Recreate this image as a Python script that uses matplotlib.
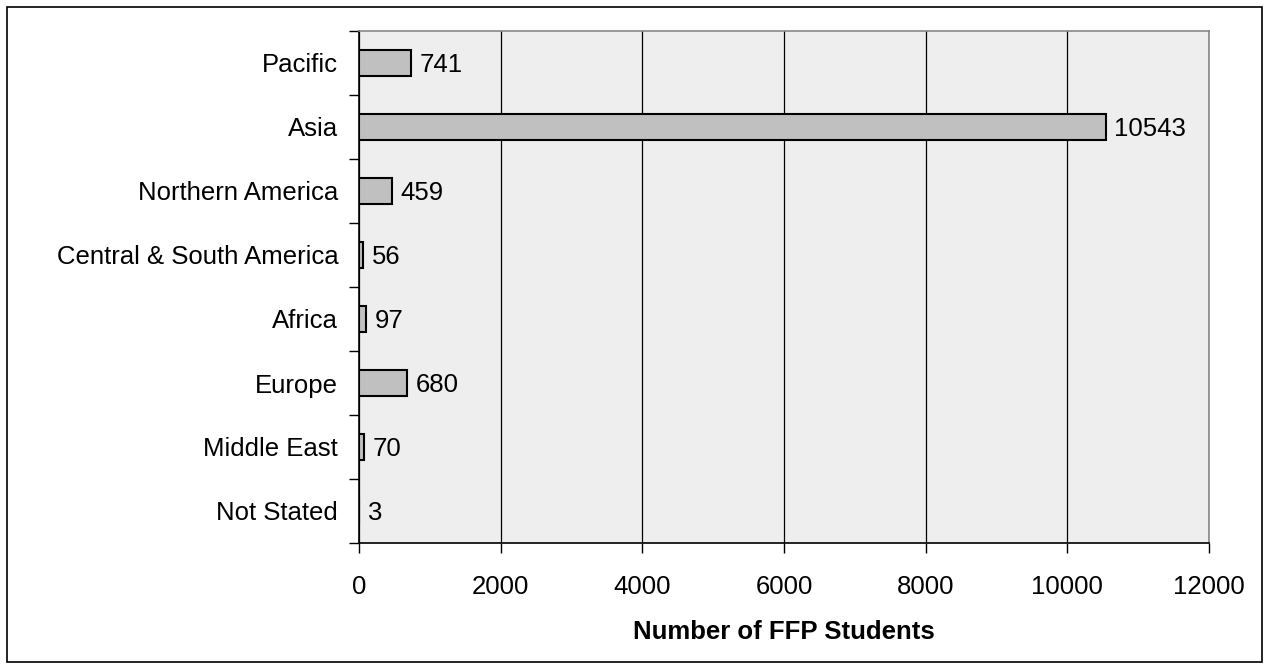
import matplotlib.pyplot as plt
from matplotlib.patches import Rectangle

plt.rcParams['font.family'] = ['Liberation Sans', 'DejaVu Sans']

# Data
regions = ['Pacific', 'Asia', 'Northern America', 'Central & South America',
           'Africa', 'Europe', 'Middle East', 'Not Stated']
students = [741, 10543, 459, 56, 97, 680, 70, 3]
x_ticks = [0, 2000, 4000, 6000, 8000, 10000, 12000]

fs = 18.5

fig = plt.figure(figsize=(12.7, 6.72), dpi=100)
ax = fig.add_axes([359 / 1270, 1 - 543 / 672, 850 / 1270, 512 / 672])

# outer frame around the whole chart
fig.patches.append(Rectangle((7 / 1270, 1 - 662 / 672), 1255 / 1270, 655 / 672,
                             transform=fig.transFigure, fill=False,
                             edgecolor='black', linewidth=1.2))

ypos = list(range(len(regions)))
ax.set_facecolor('#eeeeee')
ax.barh(ypos, students, height=0.4, color='#c0c0c0', edgecolor='black',
        linewidth=1.5, zorder=3)

for y, v in zip(ypos, students):
    ax.text(v + 120, y, str(v), va='center_baseline', ha='left', fontsize=fs, zorder=4)

ax.set_xlim(0, 12000)
ax.set_ylim(len(regions) - 0.5, -0.5)
ax.set_xticks(x_ticks)
ax.set_xticklabels([str(t) for t in x_ticks], fontsize=fs)
ax.xaxis.grid(True, color='black', linewidth=0.9, zorder=0)
ax.set_axisbelow(True)

# category labels centred on bars, tick marks on band boundaries
ax.set_yticks([y - 0.5 for y in range(len(regions) + 1)])
ax.set_yticklabels([])
ax.set_yticks(ypos, minor=True)
ax.set_yticklabels(regions, minor=True, fontsize=fs)
for lbl in ax.get_yticklabels(minor=True):
    lbl.set_verticalalignment('center_baseline')
ax.tick_params(axis='y', which='minor', length=0, pad=15)
ax.tick_params(axis='y', which='major', length=7, width=1)
ax.tick_params(axis='x', length=7, width=1, pad=16)

ax.set_xlabel('Number of FFP Students', fontsize=fs, fontweight='bold', labelpad=15)

for side in ['top', 'right']:
    ax.spines[side].set_color('#888888')
    ax.spines[side].set_linewidth(1.2)
for side in ['left', 'bottom']:
    ax.spines[side].set_color('black')
    ax.spines[side].set_linewidth(1.2)

fig.savefig('out.png', dpi=100)
